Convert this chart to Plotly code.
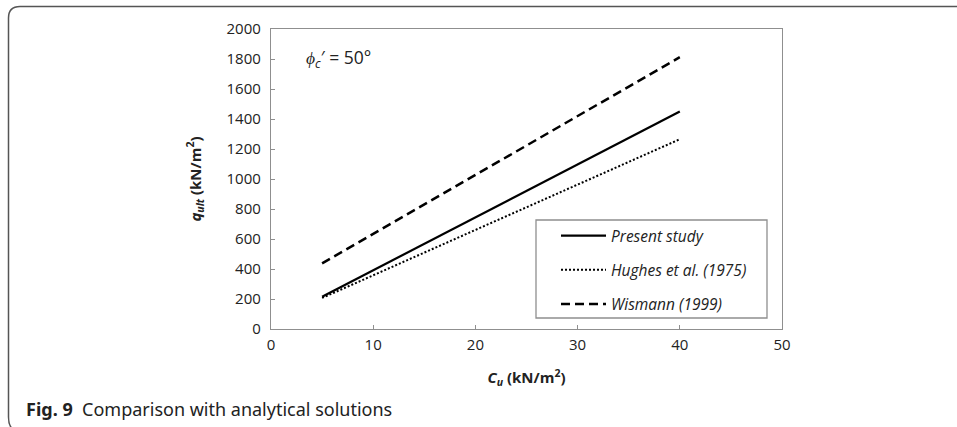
import plotly.graph_objects as go

# ---- data ----
cu = [5, 40]
present_study = [215, 1450]
hughes_1975 = [207, 1265]
wismann_1999 = [438, 1812]

series_names = ["Present study", "Hughes et al. (1975)", "Wismann (1999)"]
x_ticks = [0, 10, 20, 30, 40, 50]
y_ticks = [0, 200, 400, 600, 800, 1000, 1200, 1400, 1600, 1800, 2000]

W, H = 957, 427
L, R, T, B = 271, 782, 29, 329  # plot area in pixels


def px2paper(px, py):
    return (px - L) / (R - L), (B - py) / (B - T)


FONT = "Open Sans"
fig = go.Figure()

fig.add_trace(go.Scatter(x=cu, y=present_study, mode="lines",
                         name="<i>" + series_names[0] + "</i>", legendgroup="a",
                         line=dict(color="black", width=2.2)))
fig.add_trace(go.Scatter(x=cu, y=hughes_1975, mode="lines",
                         name="<i>" + series_names[1] + "</i>", legendgroup="b",
                         line=dict(color="black", width=2, dash="2px,2px")))
fig.add_trace(go.Scatter(x=cu, y=wismann_1999, mode="lines",
                         name="<i>" + series_names[2] + "</i>", legendgroup="c",
                         line=dict(color="black", width=2.5, dash="9px,5px")))

axis_common = dict(showline=True, linecolor="#8f8f8f", linewidth=1.3, mirror=True,
                   ticks="inside", ticklen=4, tickcolor="#8f8f8f", tickwidth=1,
                   showgrid=False, zeroline=False,
                   tickfont=dict(family=FONT, size=15, color="#222"))

fig.update_xaxes(range=[0, 50], tickvals=x_ticks, **axis_common,
                 ticklabelstandoff=2,
                 title=dict(text="<b><i>C</i><sub><i>u</i></sub> (kN/m<sup>2</sup>)</b>",
                            font=dict(family=FONT, size=15, color="#222"), standoff=19))
fig.update_yaxes(range=[0, 2000], tickvals=y_ticks, **axis_common,
                 ticklabelstandoff=6,
                 title=dict(text="<b><i>q</i><sub><i>ult</i></sub> (kN/m<sup>2</sup>)</b>",
                            font=dict(family=FONT, size=15, color="#222"), standoff=21))

# legend box
bx0, by0 = px2paper(536, 220)
bx1, by1 = px2paper(767, 318)
shapes = [dict(type="rect", xref="paper", yref="paper", x0=bx0, y0=by1, x1=bx1, y1=by0,
               line=dict(color="#8f8f8f", width=1.3), fillcolor="rgba(0,0,0,0)", layer="below")]

# outer figure frame (rounded corner at left)
pts = [(960, 6.5), (20, 6.5), (8.5, 18), (8.5, 417), (14, 430)]
p = [px2paper(a, b) for a, b in pts]
q1 = px2paper(8.5, 6.5)
q2 = px2paper(8.5, 427)
path = (f"M{p[0][0]},{p[0][1]} L{p[1][0]},{p[1][1]} "
        f"Q{q1[0]},{q1[1]} {p[2][0]},{p[2][1]} "
        f"L{p[3][0]},{p[3][1]} Q{q2[0]},{q2[1]} {p[4][0]},{p[4][1]}")
shapes.append(dict(type="path", xref="paper", yref="paper", path=path,
                   line=dict(color="#555", width=1.5)))

lx, ly = px2paper(556, 219)
ax_, ay_ = px2paper(304, 58)
cx, cy = px2paper(24, 409)
annotations = [
    dict(xref="paper", yref="paper", x=ax_, y=ay_, xanchor="left", yanchor="middle",
         showarrow=False, text="<i>ϕ</i><sub><i>c</i></sub>′ = 50°",
         font=dict(family=FONT, size=17.5, color="#222")),
    dict(xref="paper", yref="paper", x=cx, y=cy, xanchor="left", yanchor="middle",
         showarrow=False, text="<b>Fig. 9</b>\u00a0\u00a0Comparison with analytical solutions",
         font=dict(family="Noto Sans", size=18, color="#222")),
]

fig.update_layout(
    width=W, height=H,
    margin=dict(l=L, r=W - R, t=T, b=H - B, pad=0),
    paper_bgcolor="white", plot_bgcolor="white",
    showlegend=True,
    legend=dict(x=lx, y=ly, xanchor="left", yanchor="top", bgcolor="rgba(0,0,0,0)",
                borderwidth=0, itemwidth=45, traceorder="grouped", tracegroupgap=11,
                font=dict(family=FONT, size=15.5, color="#222")),
    shapes=shapes, annotations=annotations,
)

fig.write_html("out.html", config={"displayModeBar": False},
               post_script="document.body.style.margin='0';")
